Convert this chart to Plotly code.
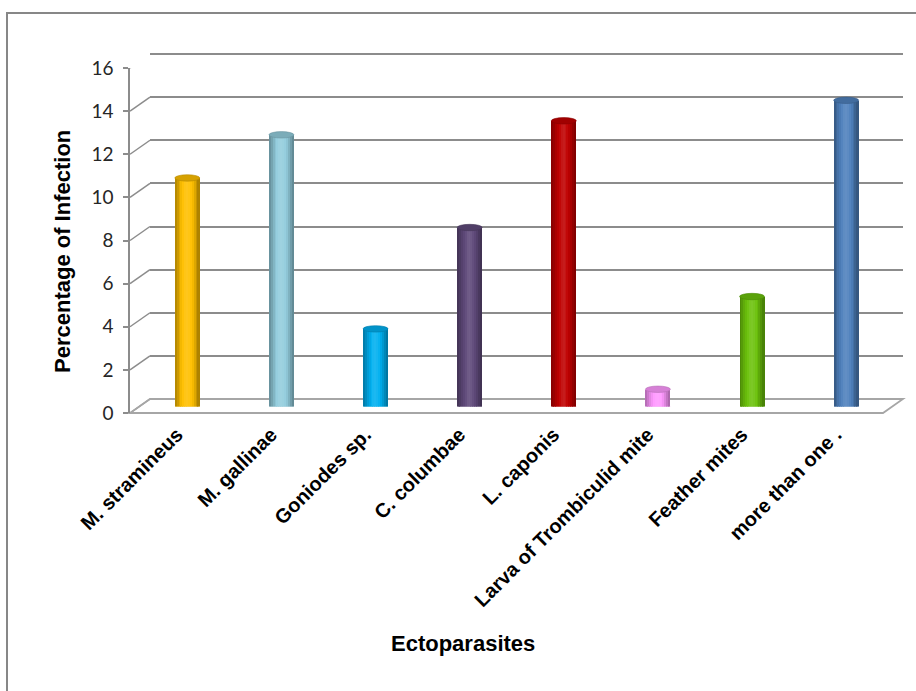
import plotly.graph_objects as go

categories = ["M. stramineus", "M. gallinae", "Goniodes sp.", "C. columbae",
              "L. caponis", "Larva of Trombiculid mite", "Feather mites", "more than one ."]
values = [10.6, 12.6, 3.6, 8.3, 13.25, 0.8, 5.1, 14.2]
bar_colors = ["#FFC000", "#93CDDD", "#00B0F0", "#604A7B",
              "#C00000", "#FF99FF", "#6CC20C", "#4F81BD"]
y_ticks = [0, 2, 4, 6, 8, 10, 12, 14, 16]

# ---- geometry (pixels) ----
FW, FH = 916, 691
L, R, T, B = 130, 903, 30, 413
W, H = R - L, B - T
FRONT_TOP = 68           # pixel of value 16 on front axis
DX, DY = 20, 14          # depth offset of back wall
PX_PER_UNIT = (B - FRONT_TOP) / 16.0
EXTRA = 0.6              # extra range above 16 on the back wall (so the top gridline is drawn)


def px(x):
    return (x - L) / W


def py(y):
    return (B - y) / H


def shade(hexc, f):
    hexc = hexc.lstrip("#")
    r, g, b = int(hexc[0:2], 16), int(hexc[2:4], 16), int(hexc[4:6], 16)
    if f <= 1:
        r, g, b = r * f, g * f, b * f
    else:
        t = f - 1
        r, g, b = r + (255 - r) * t, g + (255 - g) * t, b + (255 - b) * t
    return "#%02x%02x%02x" % (int(max(0, min(255, r))), int(max(0, min(255, g))), int(max(0, min(255, b))))


idx = list(range(len(categories)))
fig = go.Figure()

# invisible trace on front axes (to carry category labels)
fig.add_trace(go.Scatter(x=idx, y=values, mode="markers", marker=dict(opacity=0),
                         hoverinfo="skip", showlegend=False, xaxis="x", yaxis="y"))
# invisible trace on back-wall axes
fig.add_trace(go.Scatter(x=idx, y=values, mode="markers", marker=dict(opacity=0),
                         hoverinfo="skip", showlegend=False, xaxis="x2", yaxis="y2"))

# cylinder bars built from shaded stripes
bw = 0.26
profile = [0.72, 0.80, 0.89, 0.96, 1.03, 1.09, 1.11, 1.08, 1.03, 0.96, 0.87, 0.77, 0.68]
n = len(profile)
sw = bw / n
for k, f in enumerate(profile):
    fig.add_trace(go.Bar(
        x=idx, y=values,
        width=sw * 1.25, offset=-bw / 2 + k * sw,
        marker=dict(color=[shade(c, f) for c in bar_colors], line=dict(width=0)),
        hoverinfo="skip", showlegend=False, xaxis="x3", yaxis="y3"))

shapes = []
cap_h = 3.2 / PX_PER_UNIT
for i, (v, c) in enumerate(zip(values, bar_colors)):
    # bottom rounding
    shapes.append(dict(type="circle", xref="x3", yref="y3", layer="between",
                       x0=i - bw / 2 + 0.004, x1=i + bw / 2 + sw * 0.2, y0=-cap_h, y1=cap_h,
                       fillcolor=shade(c, 0.92), line=dict(width=0)))
    # top cap
    shapes.append(dict(type="circle", xref="x3", yref="y3", layer="above",
                       x0=i - bw / 2, x1=i + bw / 2 + sw * 0.25, y0=v - cap_h, y1=v + cap_h,
                       fillcolor=shade(c, 0.84), line=dict(width=0.6, color=shade(c, 0.72))))

grid_col = "#8c8c8c"
# diagonal connectors from front axis ticks to back wall gridlines
for v in y_ticks:
    shapes.append(dict(type="line", xref="paper", yref="y", layer="below",
                       x0=0, x1=px(L + DX), y0=v, y1=v + DY / PX_PER_UNIT,
                       line=dict(color=grid_col, width=1.5)))

# floor
floor_path = "M {} {} L {} {} L {} {} L {} {} Z".format(
    px(L), py(B), px(R - DX), py(B), px(R), py(B - DY), px(L + DX), py(B - DY))
shapes.append(dict(type="path", xref="paper", yref="paper", path=floor_path, layer="below",
                   fillcolor="rgba(0,0,0,0)", line=dict(color="#a6a6a6", width=1.8)))

# outer chart border
shapes.append(dict(type="rect", xref="paper", yref="paper", layer="below",
                   x0=px(7), x1=px(930), y0=py(705), y1=py(13),
                   fillcolor="rgba(0,0,0,0)", line=dict(color="#878787", width=2)))

annotations = [
    dict(text="<b>Percentage of Infection</b>", xref="paper", yref="paper",
         x=px(62), y=py(252), xanchor="center", yanchor="middle", textangle=-90,
         showarrow=False,
         font=dict(family="Liberation Sans, Arial", size=22, color="#000000")),
    dict(text="<b>Ectoparasites</b>", xref="paper", yref="paper",
         x=px(463), y=py(643), xanchor="center", yanchor="middle", showarrow=False,
         font=dict(family="Liberation Sans, Arial", size=22, color="#000000")),
]

fig.update_layout(
    width=FW, height=FH,
    margin=dict(l=L, r=FW - R, t=T, b=FH - B),
    paper_bgcolor="white", plot_bgcolor="rgba(0,0,0,0)",
    barmode="overlay", bargap=0,
    showlegend=False,
    shapes=shapes, annotations=annotations,
    xaxis=dict(domain=[0, px(R - DX)], range=[-0.5, 7.5], tickmode="array",
               tickvals=idx, ticktext=["<b>%s</b>" % c for c in categories],
               tickangle=-45, ticks="", ticklabelstandoff=5,
               showgrid=False, zeroline=False, showline=False,
               tickfont=dict(family="Liberation Sans, Arial", size=20, color="#000000"),
               anchor="y", fixedrange=True),
    yaxis=dict(domain=[0, py(FRONT_TOP)], range=[0, 16], tickvals=y_ticks,
               showgrid=False, zeroline=False, showline=True, linecolor=grid_col, linewidth=1.5,
               ticks="outside", ticklen=5, tickcolor=grid_col, tickwidth=1.5,
               ticklabelstandoff=6,
               tickfont=dict(family="Lato, Liberation Sans", size=19, color="#262626"),
               anchor="x", fixedrange=True),
    xaxis2=dict(domain=[px(L + DX), 1], range=[-0.5, 7.5], visible=False, anchor="y2",
                fixedrange=True),
    yaxis2=dict(domain=[py(B - DY), py(FRONT_TOP - DY - EXTRA * PX_PER_UNIT)],
                range=[0, 16 + EXTRA], tickvals=y_ticks,
                showgrid=True, gridcolor=grid_col, gridwidth=1.5, zeroline=False,
                showticklabels=False, showline=False, ticks="", anchor="x2", fixedrange=True),
    xaxis3=dict(domain=[px(L + DX / 2), px(R - DX / 2)], range=[-0.5, 7.5], visible=False,
                anchor="y3", fixedrange=True),
    yaxis3=dict(domain=[py(B - DY / 2 + 0.5), py(FRONT_TOP - DY / 2 + 0.5)], range=[0, 16],
                visible=False, anchor="x3", fixedrange=True),
)

fig.write_html("out.html")
